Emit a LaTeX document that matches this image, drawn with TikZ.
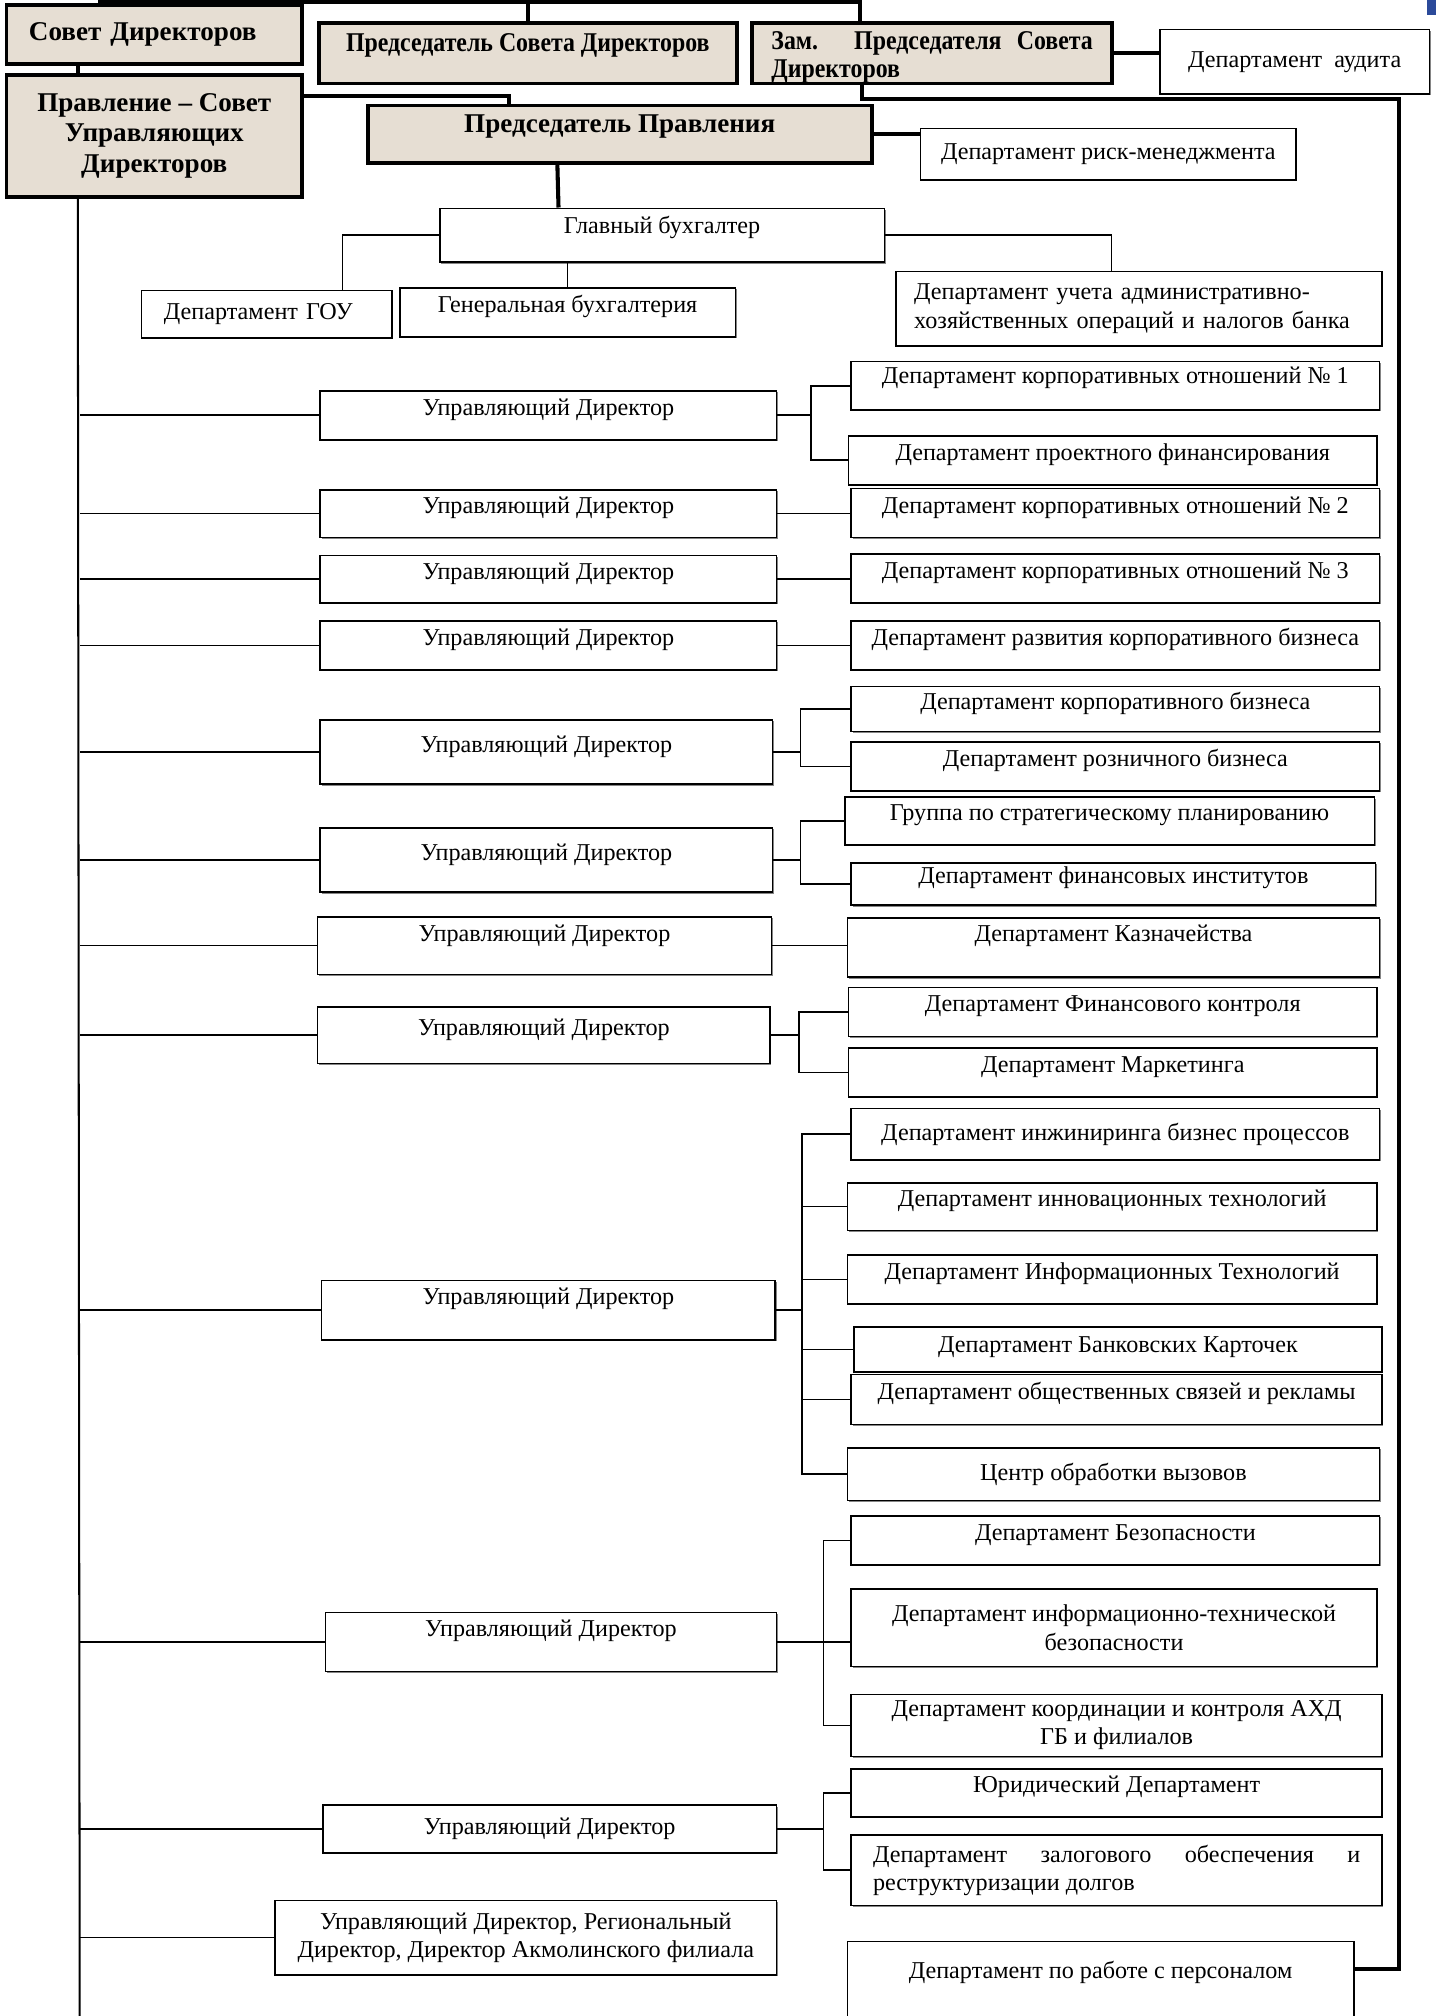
\documentclass[tikz,border=0pt]{standalone}
\usepackage{fontspec}
\setmainfont{Liberation Serif}
\newfontfamily\narrowserif[FakeStretch=0.88]{Liberation Serif}
\usetikzlibrary{calc,positioning,shadows}
\definecolor{boxfill}{HTML}{E6DED3}
\definecolor{cornerblue}{HTML}{2B4A9A}
\tikzset{
  box/.style={draw, line width=0.7pt, fill=white, inner sep=0pt,
    font=\fontsize{10.7}{12.5}\selectfont,
    drop shadow={shadow xshift=0.6pt, shadow yshift=-0.6pt, fill=black!60, opacity=0.8}},
  wh/.style 2 args={minimum width=#1cm, minimum height=#2cm},
  raised/.style={text height=8pt, text depth=#1},
  raised/.default=8pt,
  shade/.style={box, line width=1.7pt, fill=boxfill, font=\fontsize{12}{13.6}\selectfont\bfseries},
  thinline/.style={line width=0.7pt},
  thickline/.style={line width=1.8pt}
}

\begin{document}
\begin{tikzpicture}[x=0.02cm, y=-0.02cm]
  \useasboundingbox (0,0) rectangle (1117,1568);
  \fill[cornerblue] (1110,0) rectangle (1117,12);

  % board and management
  \node[shade, wh={4.6}{0.92}, text width=3.9cm, align=left] (sovet) at (120,27) {Совет Директоров};
  \node[shade, wh={6.5}{0.94}, raised=10pt, font=\fontsize{12}{13.6}\narrowserif\bfseries] (predsd) at (410.5,41.5) {Председатель Совета Директоров};
  \node[shade, wh={5.6}{0.94}, text width=5.0cm, align=justify, text height=11.8pt, text depth=14.8pt, font=\fontsize{12}{12}\narrowserif\bfseries] (zam) at (725,41.5) {Зам. Председателя Совета\linebreak Директоров};
  \node[box, wh={4.2}{1.0}] (audit) at (1007,48) {Департамент~~аудита};
  \node[shade, wh={4.6}{1.9}, align=center] (pravl) at (120,105.5) {Правление – Совет\\Управляющих\\Директоров};
  \node[shade, wh={7.84}{0.9}, raised=10pt] (predpr) at (482,104.5) {Председатель Правления};
  \node[box, wh={5.84}{0.8}] (risk) at (862,120) {Департамент риск-менеджмента};

  % accounting
  \node[box, wh={6.92}{0.84}, raised=10pt] (glavbuh) at (515,183) {Главный бухгалтер};
  \node[box, wh={3.9}{0.74}, text width=3.2cm, align=left] (gou) at (207.5,244.5) {Департамент ГОУ};
  \node[box, wh={5.22}{0.76}, raised] (genbuh) at (441.5,243) {Генеральная бухгалтерия};
  \node[box, wh={7.56}{1.16}, text width=7.0cm, align=left] (uchet) at (886,240) {Департамент учета административно-\\хозяйственных операций и налогов банка};

  % managing directors and departments
  \node[box, wh={7.1}{0.76}, raised] (ud1) at (426.5,323) {Управляющий Директор};
  \node[box, wh={8.22}{0.76}, raised=10pt] (dk1) at (867.5,300) {Департамент корпоративных отношений № 1};
  \node[box, wh={8.22}{0.76}, raised] (dpf) at (865.5,358) {Департамент проектного финансирования};

  \node[box, wh={7.1}{0.74}, raised] (ud2) at (426.5,399.5) {Управляющий Директор};
  \node[box, wh={8.22}{0.76}, raised] (dk2) at (867.5,399) {Департамент корпоративных отношений № 2};

  \node[box, wh={7.1}{0.74}, raised] (ud3) at (426.5,450.5) {Управляющий Директор};
  \node[box, wh={8.22}{0.76}, raised] (dk3) at (867.5,450) {Департамент корпоративных отношений № 3};

  \node[box, wh={7.1}{0.76}, raised] (ud4) at (426.5,502) {Управляющий Директор};
  \node[box, wh={8.22}{0.76}, raised] (drk) at (867.5,502) {Департамент развития корпоративного бизнеса};

  \node[box, wh={7.04}{1.0}, raised] (ud5) at (425,585) {Управляющий Директор};
  \node[box, wh={8.22}{0.7}, raised] (dkb) at (867.5,551.5) {Департамент корпоративного бизнеса};
  \node[box, wh={8.22}{0.76}, raised] (drb) at (867.5,596) {Департамент розничного бизнеса};

  \node[box, wh={7.04}{1.0}, raised] (ud6) at (425,669) {Управляющий Директор};
  \node[box, wh={8.24}{0.74}, raised] (dsp) at (863,638.5) {Группа по стратегическому планированию};
  \node[box, wh={8.16}{0.66}, raised] (dfi) at (866,687.5) {Департамент финансовых институтов};

  \node[box, wh={7.06}{0.9}, raised=11.5pt] (ud7) at (423.5,735.5) {Управляющий Директор};
  \node[box, wh={8.28}{0.92}, raised=13.5pt] (dkz) at (866,737) {Департамент Казначейства};

  \node[box, wh={7.04}{0.88}, raised] (ud8) at (423,805) {Управляющий Директор};
  \node[box, wh={8.22}{0.76}, raised] (dfk) at (865.5,787) {Департамент Финансового контроля};
  \node[box, wh={8.22}{0.76}, raised] (dmk) at (865.5,834) {Департамент Маркетинга};

  \node[box, wh={7.06}{0.92}, raised=13pt] (ud9) at (426.5,1019) {Управляющий Директор};
  \node[box, wh={8.22}{0.8}] (dibp) at (867.5,882) {Департамент инжиниринга бизнес процессов};
  \node[box, wh={8.24}{0.74}, raised] (dint) at (865,938.5) {Департамент инновационных технологий};
  \node[box, wh={8.24}{0.76}, raised] (dit) at (865,995) {Департамент Информационных Технологий};
  \node[box, wh={8.22}{0.7}, raised=5.5pt] (dbk) at (869.5,1049.5) {Департамент Банковских Карточек};
  \node[box, wh={8.26}{0.78}, raised] (dosr) at (868.5,1088.5) {Департамент общественных связей и рекламы};
  \node[box, wh={8.28}{0.82}] (cov) at (866,1146.5) {Центр обработки вызовов};

  \node[box, wh={7.02}{0.92}, raised=13pt] (ud10) at (428.5,1277) {Управляющий Директор};
  \node[box, wh={8.22}{0.76}, raised] (dbez) at (867.5,1198) {Департамент Безопасности};
  \node[box, wh={8.18}{1.2}, align=center] (ditb) at (866.5,1266) {Департамент информационно-технической\\безопасности};
  \node[box, wh={8.26}{0.96}, align=center] (dkoord) at (868.5,1342) {Департамент координации и контроля АХД\\ГБ и филиалов};

  \node[box, wh={7.06}{0.74}] (ud11) at (427.5,1422.5) {Управляющий Директор};
  \node[box, wh={8.26}{0.74}, raised] (dyur) at (868.5,1394.5) {Юридический Департамент};
  \node[box, wh={8.26}{1.1}, text width=7.58cm, align=justify] (dzal) at (868.5,1454.5) {Департамент залогового обеспечения и\linebreak реструктуризации долгов};

  \node[box, wh={7.8}{1.16}, align=center] (ud12) at (409,1507) {Управляющий Директор, Региональный\\Директор, Директор Акмолинского филиала};
  \node[box, wh={7.88}{1.8}, raised=26pt] (dpers) at (856,1555) {Департамент по работе с персоналом};

  % thick connectors
  \draw[thickline] ([xshift=1.46cm, yshift=0.02cm]sovet.north west) -| ([xshift=1.7cm]zam.north west);
  \draw[thickline] (predsd.north) -- (predsd.north |- sovet.north);
  \draw[thickline] ([xshift=1.14cm]sovet.south west) -- ([xshift=1.14cm]pravl.north west);
  \draw[thickline] ([yshift=-0.36cm]pravl.north east) -| ([xshift=2.22cm]predpr.north west);
  \draw[thickline] (zam.east) -- (zam.east -| audit.west);
  \coordinate (rtop) at (1088,77);
  \draw[thickline] ([xshift=1.74cm]zam.south west) |- (rtop) |- ([yshift=-0.44cm]dpers.north east);
  \draw[thickline] (predpr.east) -- (predpr.east -| risk.west);
  \draw[thickline] ([xshift=2.98cm]predpr.south west) -- ([xshift=1.86cm]glavbuh.north west);

  % accounting connectors
  \draw[thinline] (glavbuh.west) -| ([xshift=3.14cm]gou.north west);
  \draw[thinline] (genbuh.north) -- (genbuh.north |- glavbuh.south);
  \draw[thinline] (glavbuh.east) -| ([xshift=3.36cm]uchet.north west);

  % left trunk
  \coordinate (trunkend) at (62,1575);
  \draw[line width=0.9pt] ([xshift=1.14cm]pravl.south west) -- (trunkend);
  \foreach \u in {ud1,ud2,ud3,ud4,ud5,ud6,ud7,ud8,ud9,ud10,ud11,ud12}
    \draw[thinline] (\u.west) -- (\u.west -| trunkend);

  % directors to departments
  \draw[thinline] (ud1.east) -- ++(26,0) coordinate (b1);
  \draw[thinline] (dk1.west) -| (b1) |- (dpf.west);
  \draw[thinline] (ud2.east) -- (ud2.east -| dk2.west);
  \draw[thinline] (ud3.east) -- (ud3.east -| dk3.west);
  \draw[thinline] (ud4.east) -- (ud4.east -| drk.west);
  \draw[thinline] (ud5.east) -- ++(21,0) coordinate (b5);
  \draw[thinline] (dkb.west) -| (b5) |- (drb.west);
  \draw[thinline] (ud6.east) -- ++(21,0) coordinate (b6);
  \draw[thinline] (dsp.west) -| (b6) |- (dfi.west);
  \draw[thinline] (ud7.east) -- (ud7.east -| dkz.west);
  \draw[thinline] (ud8.east) -- ++(22,0) coordinate (b8);
  \draw[thinline] (dfk.west) -| (b8) |- (dmk.west);
  \draw[thinline] (ud9.east) -- ++(20,0) coordinate (b9);
  \draw[thinline] (dibp.west) -| (b9) |- (cov.west);
  \foreach \d in {dint,dit,dbk,dosr}
    \draw[thinline] (b9 |- \d.west) -- (\d.west);
  \draw[thinline] (ud10.east) -- (ud10.east -| ditb.west);
  \draw[thinline] (dbez.west) -| ([xshift=0.72cm]ud10.east) |- (dkoord.west);
  \draw[thinline] (ud11.east) -- ++(36,0) coordinate (b11);
  \draw[thinline] (dyur.west) -| (b11) |- (dzal.west);
\end{tikzpicture}
\end{document}
